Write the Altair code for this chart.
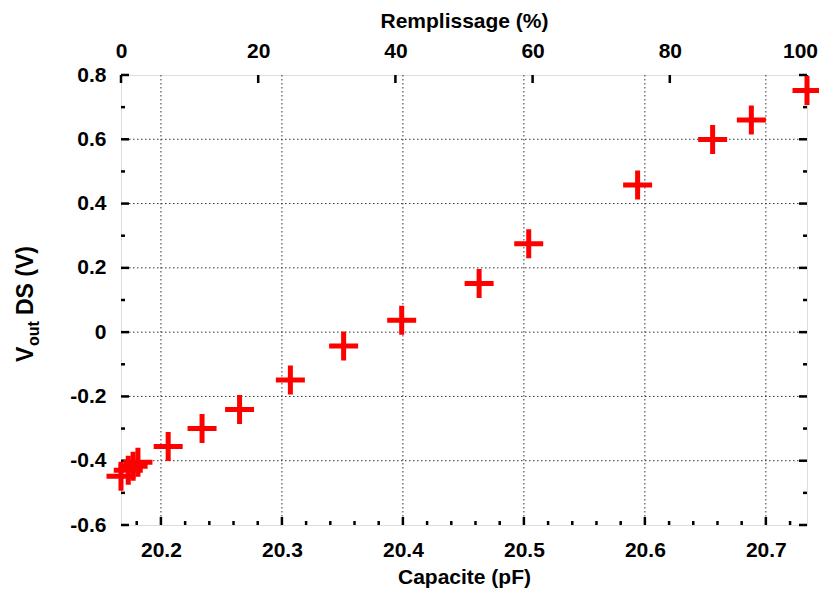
import altair as alt
import pandas as pd

# ---- data ----
capacite = [20.167, 20.173, 20.177, 20.181, 20.206, 20.234, 20.265, 20.307,
            20.351, 20.399, 20.463, 20.504, 20.594, 20.656, 20.688, 20.734]
vout = [-0.448, -0.430, -0.417, -0.405, -0.356, -0.300, -0.241, -0.149,
        -0.043, 0.037, 0.151, 0.275, 0.458, 0.599, 0.660, 0.752]

x_domain = [20.167, 20.734]
top_domain = [0, 100]
y_domain = [-0.6, 0.8]

x_major = [20.2, 20.3, 20.4, 20.5, 20.6, 20.7]
x_minor = [20.18, 20.22, 20.24, 20.26, 20.28, 20.32, 20.34, 20.36, 20.38,
           20.42, 20.44, 20.46, 20.48, 20.52, 20.54, 20.56, 20.58,
           20.62, 20.64, 20.66, 20.68, 20.72]
y_major = [-0.6, -0.4, -0.2, 0.0, 0.2, 0.4, 0.6, 0.8]
y_minor = [-0.5, -0.3, -0.1, 0.1, 0.3, 0.5, 0.7]
y_grid = [-0.4, -0.2, 0.0, 0.2, 0.4, 0.6]
top_major = [0, 20, 40, 60, 80, 100]

W, H = 686, 450
FONT = "Liberation Sans"
FS = 21

pts = pd.DataFrame({"capacite": capacite, "vout": vout})
xmaj = pd.DataFrame({"v": x_major})
xmin = pd.DataFrame({"v": x_minor})
ymaj = pd.DataFrame({"v": y_major})
ymin = pd.DataFrame({"v": y_minor})
ygr = pd.DataFrame({"v": y_grid})
topt = pd.DataFrame({"v": top_major})
one = pd.DataFrame({"a": [0]})

xs = alt.Scale(domain=x_domain, nice=False, zero=False)
ys = alt.Scale(domain=y_domain, nice=False, zero=False)

ylab = ("datum.value == 0 ? '0' : (datum.value < 0 ? '-' + format(-datum.value, '.1f')"
        " : format(datum.value, '.1f'))")
y_axis = alt.Axis(values=y_major, labelExpr=ylab, labelFont=FONT,
                  labelFontSize=FS, labelFontWeight="bold",
                  labelColor="black", labelPadding=15, tickSize=0,
                  ticks=False, domain=False, grid=False, title=None,
                  labelFlush=False)

grid_style = dict(color="#333333", strokeWidth=1, strokeDash=[1.5, 2.5])
tick_style = dict(color="black", strokeWidth=2.5)


def yenc(field="v:Q"):
    return alt.Y(field, scale=ys, axis=y_axis)


vgrid = alt.Chart(xmaj).mark_rule(**grid_style).encode(
    x=alt.X("v:Q", scale=xs, axis=None), y=alt.value(0), y2=alt.value(H))
hgrid = alt.Chart(ygr).mark_rule(**grid_style).encode(
    y=yenc(), x=alt.value(0), x2=alt.value(W))

bmaj = alt.Chart(xmaj).mark_rule(**tick_style).encode(
    x=alt.X("v:Q", scale=xs, axis=None), y=alt.value(H), y2=alt.value(H - 8))
bmin = alt.Chart(xmin).mark_rule(**tick_style).encode(
    x=alt.X("v:Q", scale=xs, axis=None), y=alt.value(H), y2=alt.value(H - 4))
lmaj = alt.Chart(ymaj).mark_rule(**tick_style).encode(
    y=yenc(), x=alt.value(0), x2=alt.value(8))
lmin = alt.Chart(ymin).mark_rule(**tick_style).encode(
    y=yenc(), x=alt.value(0), x2=alt.value(4))
rmaj = alt.Chart(ymaj).mark_rule(**tick_style).encode(
    y=yenc(), x=alt.value(W), x2=alt.value(W - 8))
rmin = alt.Chart(ymin).mark_rule(**tick_style).encode(
    y=yenc(), x=alt.value(W), x2=alt.value(W - 4))

top = alt.Chart(topt).mark_rule(**tick_style).encode(
    x=alt.X("v:Q", scale=alt.Scale(domain=top_domain, nice=False, zero=False),
            axis=alt.Axis(orient="top", values=top_major, format="d",
                          labelFont=FONT, labelFontSize=FS, labelFontWeight="bold",
                          labelColor="black", labelPadding=14, tickSize=0,
                          ticks=False, domain=False, grid=False, labelFlush=False,
                          labelOffset={"condition": {"test": "datum.value == 100",
                                                     "value": -7},
                                       "value": 0},
                          title="Remplissage (%)", titleFont=FONT,
                          titleFontSize=FS, titleFontWeight="bold",
                          titleColor="black", titlePadding=9)),
    y=alt.value(0), y2=alt.value(8))

points = alt.Chart(pts).mark_point(
    shape="M-1,0H1M0,-1V1", size=841, filled=False, stroke="#ff0000",
    strokeWidth=5, opacity=1, clip=False).encode(
    x=alt.X("capacite:Q", scale=xs,
            axis=alt.Axis(values=x_major, format=".1f", labelFont=FONT,
                          labelFontSize=FS, labelFontWeight="bold",
                          labelColor="black", labelPadding=14, tickSize=0,
                          ticks=False, domain=False, grid=False, labelFlush=False,
                          title="Capacite (pF)", titleFont=FONT, titleFontSize=FS,
                          titleFontWeight="bold", titleColor="black",
                          titlePadding=6)),
    y=yenc("vout:Q"))

tstyle = dict(font=FONT, fontWeight="bold", color="black", angle=270,
              align="left", baseline="alphabetic")
t_v = alt.Chart(one).mark_text(text="V", fontSize=FS + 2, **tstyle).encode(
    x=alt.value(-88), y=alt.value(287))
t_out = alt.Chart(one).mark_text(text="out", fontSize=16, **tstyle).encode(
    x=alt.value(-82), y=alt.value(271))
t_ds = alt.Chart(one).mark_text(text="DS (V)", fontSize=FS + 2, **tstyle).encode(
    x=alt.value(-88), y=alt.value(240))

chart = alt.layer(
    vgrid, hgrid, bmaj, bmin, lmaj, lmin, rmaj, rmin, top, points, t_v, t_out, t_ds
).resolve_scale(x="independent").properties(
    width=W, height=H,
    autosize=alt.AutoSizeParams(type="none"),
    padding={"left": 113, "top": 67, "right": 12, "bottom": 68},
).configure_view(stroke="black", strokeWidth=3).configure(background="white")

chart.save("out.html", embed_options={"renderer": "svg", "actions": False})
